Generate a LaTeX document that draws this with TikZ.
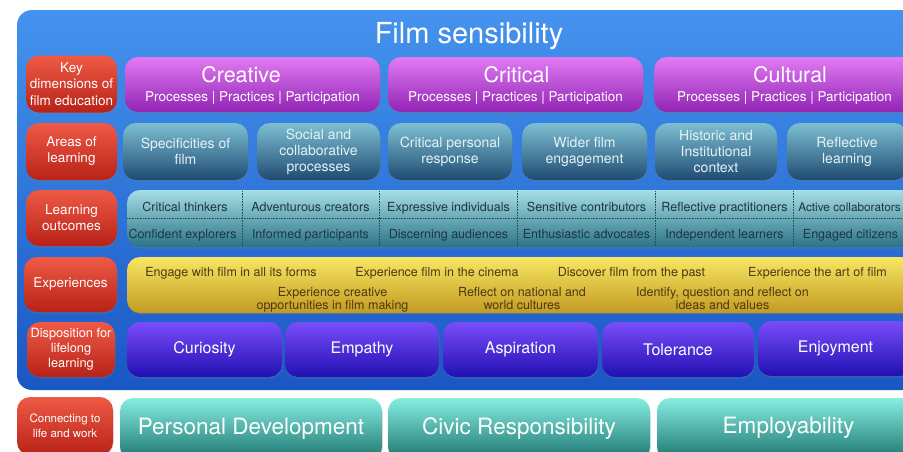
\documentclass[tikz,border=0pt]{standalone}
\usepackage{fontspec}
\setmainfont{TeX Gyre Heros}
\usetikzlibrary{shadows}
\definecolor{bgT}{HTML}{4593EE}
\definecolor{bgB}{HTML}{1957C4}
\definecolor{redT}{HTML}{EE5A45}
\definecolor{redB}{HTML}{B82218}
\definecolor{purT}{HTML}{E27BF3}
\definecolor{purB}{HTML}{9124B4}
\definecolor{arT}{HTML}{7DBFD2}
\definecolor{arB}{HTML}{1F4B72}
\definecolor{arTx}{HTML}{E4F2F6}
\definecolor{ouT}{HTML}{A6DEE6}
\definecolor{ouB}{HTML}{2C7386}
\definecolor{ouTx}{HTML}{1D3642}
\definecolor{yeT}{HTML}{F6E763}
\definecolor{yeB}{HTML}{C49A22}
\definecolor{yeTx}{HTML}{4A3A12}
\definecolor{inT}{HTML}{7A4DFA}
\definecolor{inB}{HTML}{2010B2}
\definecolor{tlT}{HTML}{86EDE2}
\definecolor{tlB}{HTML}{1C756E}
\tikzset{
  boxbase/.style={rounded corners=13pt, inner sep=0pt, align=center,
    drop shadow={opacity=0.3, shadow xshift=0.5pt, shadow yshift=-1.5pt}},
  lab/.style={boxbase, top color=redT, bottom color=redB, text=white},
  dimbox/.style={boxbase, top color=purT, bottom color=purB, minimum height=55pt},
  dimtitle/.style={text=white, inner sep=0pt, anchor=base, font=\fontsize{21.5}{24}\selectfont},
  dimsub/.style={text=white, inner sep=0pt, anchor=base, font=\fontsize{13.5}{16}\selectfont},
  area/.style={boxbase, top color=arT, bottom color=arB, text=arTx, minimum height=57pt,
    font=\fontsize{14}{16}\selectfont},
  outbox/.style={boxbase, top color=ouT, bottom color=ouB},
  outtxt/.style={text=ouTx, inner sep=0pt, anchor=base, font=\fontsize{12.5}{14}\selectfont},
  sepline/.style={densely dotted, draw=ouB!70!black, line width=0.6pt},
  yebox/.style={boxbase, top color=yeT, bottom color=yeB},
  yetxt/.style={text=yeTx, inner sep=0pt, anchor=base, font=\fontsize{12.5}{14}\selectfont},
  disp/.style={boxbase, top color=inT, bottom color=inB, text=white, minimum height=55pt,
    font=\fontsize{16}{18}\selectfont},
  life/.style={boxbase, top color=tlT, bottom color=tlB, text=white, minimum height=62pt,
    font=\fontsize{22.5}{25}\selectfont},
}
\begin{document}
\begin{tikzpicture}[x=1pt,y=-1pt]
\useasboundingbox (0,0) rectangle (903,451);
\clip (0,0) rectangle (903,451);
\fill[white] (0,0) rectangle (903,451);
% background panel
\node[rounded corners=15pt, top color=bgT, bottom color=bgB, minimum width=910pt,
  minimum height=380pt, inner sep=0pt] (panel) at (472,200) {};
\node[text=white, inner sep=0pt, anchor=base, font=\fontsize{29}{32}\selectfont]
  (title) at (469,43) {Film sensibility};

% left labels
\node[lab, minimum width=91pt, minimum height=57pt, font=\fontsize{13.5}{16.5}\selectfont]
  (k1) at (71.5,84) {Key\\dimensions of\\film education};
\node[lab, minimum width=91pt, minimum height=57pt, font=\fontsize{13.5}{16}\selectfont]
  (k2) at (71.5,151.5) {Areas of\\learning};
\node[lab, minimum width=91pt, minimum height=56pt, font=\fontsize{13.5}{16}\selectfont]
  (k3) at (71.5,218) {Learning\\outcomes};
\node[lab, minimum width=93pt, minimum height=55pt, font=\fontsize{13.5}{16}\selectfont]
  (k4) at (70.5,284.5) {Experiences};
\node[lab, minimum width=88pt, minimum height=55pt, font=\fontsize{12.8}{15}\selectfont]
  (k5) at (71,349.5) {Disposition for\\lifelong\\learning};
\node[lab, minimum width=96pt, minimum height=58pt, font=\fontsize{11.5}{15}\selectfont]
  (k6) at (65,426) {Connecting to\\life and work};

% row 1: key dimensions
\node[dimbox, minimum width=255pt] (cre) at (252.5,84.5) {};
\node[dimtitle] (creT) at (241,82.5) {Creative};
\node[dimsub] (creS) at (252.5,101.5) {Processes | Practices | Participation};
\node[dimbox, minimum width=255pt] (cri) at (515.5,84.5) {};
\node[dimtitle] (criT) at (516.5,82) {Critical};
\node[dimsub] (criS) at (515.5,101.5) {Processes | Practices | Participation};
\node[dimbox, minimum width=262pt] (cul) at (785,84.5) {};
\node[dimtitle] (culT) at (790,82) {Cultural};
\node[dimsub] (culS) at (784.5,101.5) {Processes | Practices | Participation};

% row 2: areas of learning
\node[area, minimum width=125pt] (a1) at (185.5,151.5) {Specificities of\\film};
\node[area, minimum width=123pt] (a2) at (318.5,151.5) {Social and\\collaborative\\processes};
\node[area, minimum width=124pt] (a3) at (450,151.5) {Critical personal\\response};
\node[area, minimum width=125pt] (a4) at (584.5,151.5) {Wider film\\engagement};
\node[area, minimum width=122pt] (a5) at (716,151.5) {Historic and\\Institutional\\context};
\node[area, minimum width=120pt] (a6) at (847,151.5) {Reflective\\learning};

% row 3: learning outcomes
\node[outbox, minimum width=790pt, minimum height=57pt] (out) at (522,218.5) {};
\draw[sepline] (127,218.3) -- (903,218.3);
\foreach \sx in {242.5,379.5,517.5,655.5,793} {
  \draw[sepline] (\sx,191) -- (\sx,246.5);
}
\node[outtxt] (o1) at (185,211) {Critical thinkers};
\node[outtxt] (o2) at (310.5,211) {Adventurous creators};
\node[outtxt] (o3) at (448.5,211) {Expressive individuals};
\node[outtxt] (o4) at (586.5,211) {Sensitive contributors};
\node[outtxt] (o5) at (724.5,211) {Reflective practitioners};
\node[outtxt, font=\fontsize{11.8}{14}\selectfont] (o6) at (849.5,211) {Active collaborators};
\node[outtxt] (u1) at (182.5,238) {Confident explorers};
\node[outtxt] (u2) at (310.5,238) {Informed participants};
\node[outtxt] (u3) at (448.5,238) {Discerning audiences};
\node[outtxt] (u4) at (586.5,238) {Enthusiastic advocates};
\node[outtxt] (u5) at (724.5,238) {Independent learners};
\node[outtxt] (u6) at (850.5,238) {Engaged citizens};

% row 4: experiences
\node[yebox, minimum width=790pt, minimum height=56pt] (exp) at (522,285) {};
\node[yetxt] (e1) at (231,276) {Engage with film in all its forms};
\node[yetxt] (e2) at (437,276) {Experience film in the cinema};
\node[yetxt] (e3) at (631.5,276) {Discover film from the past};
\node[yetxt] (e4) at (817.5,276) {Experience the art of film};
\node[yetxt] (e5a) at (332.5,296) {Experience creative};
\node[yetxt] (e5b) at (332.5,309.5) {opportunities in film making};
\node[yetxt] (e6a) at (522,296) {Reflect on national and};
\node[yetxt] (e6b) at (522,309.5) {world cultures};
\node[yetxt] (e7a) at (722.5,296) {Identify, question and reflect on};
\node[yetxt] (e7b) at (722.5,309.5) {ideas and values};

% row 5: dispositions
\node[disp, minimum width=155pt] (d1) at (204.5,349.5) {Curiosity};
\node[disp, minimum width=154pt] (d2) at (362,349.5) {Empathy};
\node[disp, minimum width=155pt] (d3) at (520.5,349.5) {Aspiration};
\node[disp, minimum width=152pt] (d4) at (678,349.5) {Tolerance};
\node[disp, minimum width=155pt] (d5) at (835.5,348.5) {Enjoyment};

% row 6: connecting to life and work
\node[life, minimum width=262pt] (l1) at (251,429) {Personal Development};
\node[life, minimum width=262pt] (l2) at (519,429) {Civic Responsibility};
\node[life, minimum width=263pt] (l3) at (788.5,429) {};
\node[text=white, inner sep=0pt, anchor=base, font=\fontsize{22.5}{25}\selectfont]
  (l3T) at (788.5,433) {Employability};
\end{tikzpicture}
\end{document}
